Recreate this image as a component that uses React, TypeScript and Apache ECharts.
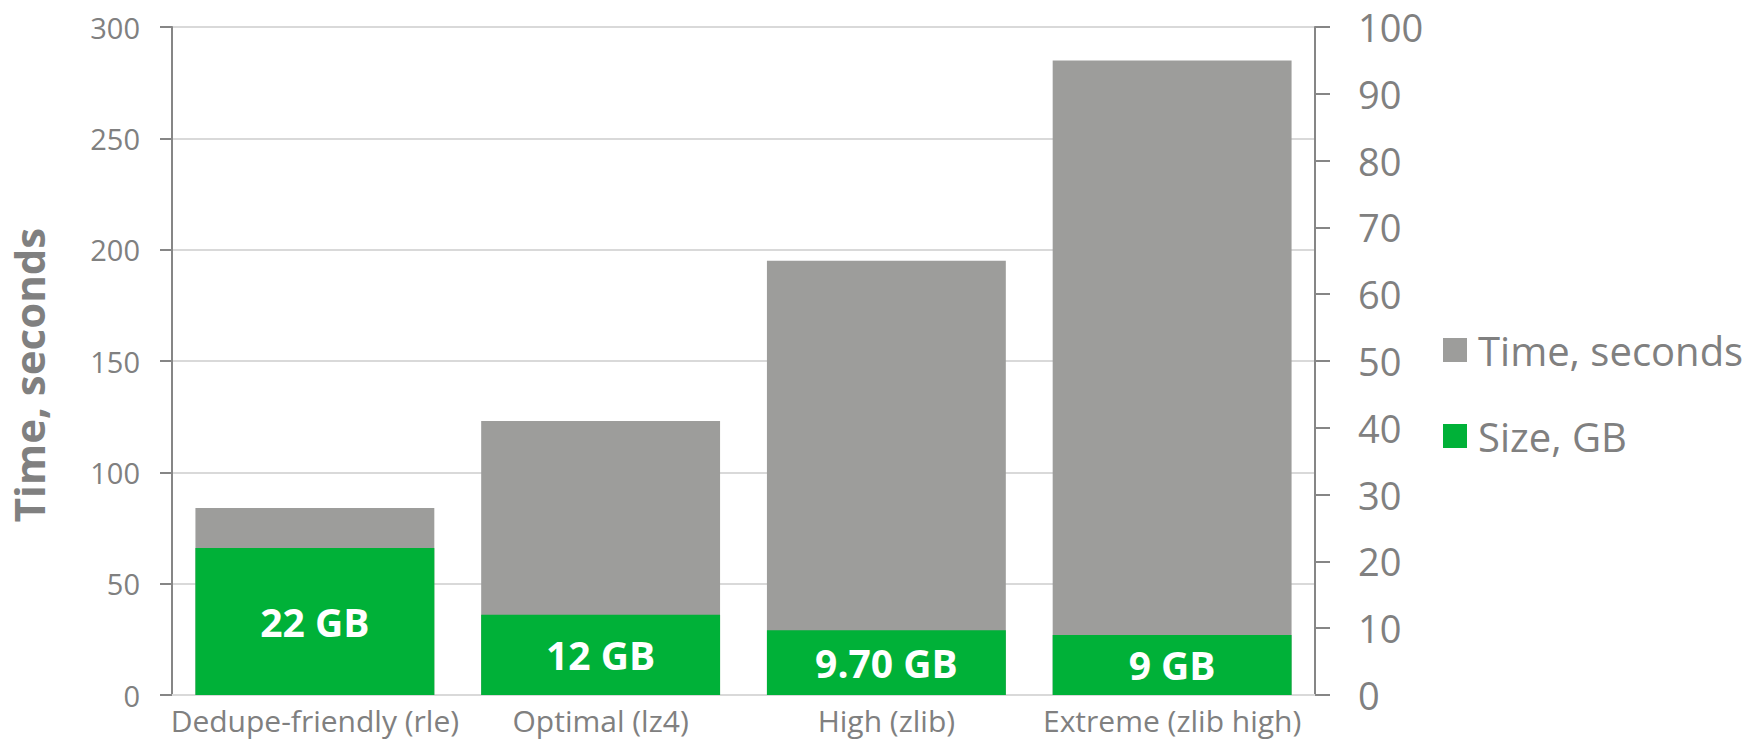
import React, { useEffect, useRef } from "react";
import * as echarts from "echarts";

const categories = ["Dedupe-friendly (rle)", "Optimal (lz4)", "High (zlib)", "Extreme (zlib high)"];
const timeSeconds = [84, 123, 195, 285];
const sizeGB = [22, 12, 9.7, 9];
const sizeLabels = ["22 GB", "12 GB", "9.70 GB", "9 GB"];
const timeTicks = { min: 0, max: 300, interval: 50 };
const sizeTicks = { min: 0, max: 100, interval: 10 };

const GRAY = "#9d9d9b";
const GREEN = "#00b138";
const TEXT = "#808080";
const FONT = "'Open Sans', 'Noto Sans', sans-serif";

export default function App() {
  const ref = useRef<HTMLDivElement>(null);
  useEffect(() => {
    if (!ref.current) return;
    const chart = echarts.init(ref.current, null, { renderer: "svg" });
    chart.setOption({
      animation: false,
      backgroundColor: "#ffffff",
      textStyle: { fontFamily: FONT },
      grid: { left: 172, right: 434, top: 27, bottom: 46, containLabel: false },
      legend: {
        orient: "vertical",
        left: 1438,
        top: 325,
        icon: "rect",
        itemWidth: 24,
        itemHeight: 24,
        itemGap: 46,
        data: ["Time, seconds", "Size, GB"],
        textStyle: { color: TEXT, fontSize: 40, fontFamily: FONT, lineHeight: 40, padding: [0, 0, 0, 6] },
      },
      graphic: [
        {
          type: "text",
          x: 28,
          y: 375,
          rotation: Math.PI / 2,
          style: {
            text: "Time, seconds",
            fill: TEXT,
            font: `bold 42px ${FONT}`,
            textAlign: "center",
            textVerticalAlign: "middle",
          },
        },
      ],
      xAxis: {
        type: "category",
        data: categories,
        axisLine: { show: true, lineStyle: { color: "#d9d9d9", width: 2 } },
        axisTick: { show: false },
        axisLabel: { color: TEXT, fontSize: 30, fontFamily: FONT, margin: 10, interval: 0 },
      },
      yAxis: [
        {
          type: "value",
          min: timeTicks.min,
          max: timeTicks.max,
          interval: timeTicks.interval,
          position: "left",
          axisLine: { show: true, lineStyle: { color: "#868686", width: 2 } },
          axisTick: { show: true, length: 12, lineStyle: { color: "#868686", width: 2 } },
          axisLabel: { color: TEXT, fontSize: 29, fontFamily: FONT, margin: 32 },
          splitLine: { show: true, lineStyle: { color: "#d9d9d9", width: 2 } },
        },
        {
          type: "value",
          min: sizeTicks.min,
          max: sizeTicks.max,
          interval: sizeTicks.interval,
          position: "right",
          axisLine: { show: true, lineStyle: { color: "#868686", width: 2 } },
          axisTick: { show: true, length: 15, lineStyle: { color: "#868686", width: 2 } },
          axisLabel: { color: TEXT, fontSize: 38, fontFamily: FONT, margin: 43 },
          splitLine: { show: false },
        },
      ],
      series: [
        {
          name: "Time, seconds",
          type: "bar",
          yAxisIndex: 0,
          data: timeSeconds,
          barCategoryGap: "16.4%",
          barGap: "-100%",
          itemStyle: { color: GRAY },
        },
        {
          name: "Size, GB",
          type: "bar",
          yAxisIndex: 1,
          data: sizeGB,
          barCategoryGap: "16.4%",
          barGap: "-100%",
          itemStyle: { color: GREEN },
          label: {
            show: true,
            position: "inside",
            color: "#ffffff",
            fontSize: 39,
            fontWeight: "bold",
            fontFamily: FONT,
            formatter: (p: any) => sizeLabels[p.dataIndex],
          },
        },
      ],
    });
    return () => chart.dispose();
  }, []);
  return (
    <div
      ref={ref}
      style={{ position: "fixed", left: 0, top: 0, width: 1749, height: 741 }}
    />
  );
}
